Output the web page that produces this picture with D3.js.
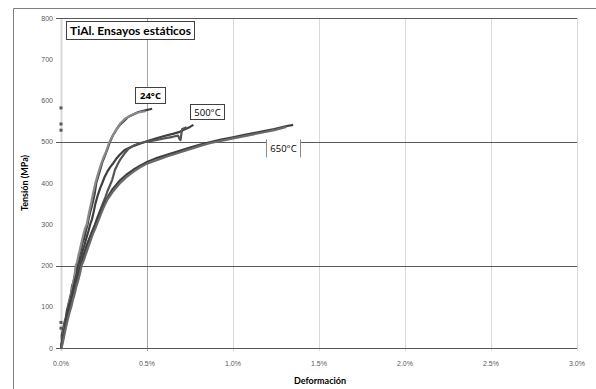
<!DOCTYPE html>
<meta charset="utf-8">
<style>
body { margin: 0; background: #fff; }
svg text { font-family: Lato, "Liberation Sans", sans-serif; }
.tick-label { font-family: "Liberation Sans", sans-serif; font-size: 7px; fill: #595959; }
.axis-title { font-size: 9px; font-weight: 700; fill: #000; }
svg text.temp { font-family: "Open Sans", sans-serif; font-size: 9.5px; }
</style>
<body>
<script src="https://cdn.jsdelivr.net/npm/d3@7"></script>
<script>
var W = 596, H = 389

// strain (%) and stress (MPa)
var s24aX = [0, 0.006, 0.004, 0.012, 0.02, 0.028, 0.034, 0.042, 0.05, 0.058, 0.064, 0.072, 0.08, 0.086, 0.095, 0.104, 0.11, 0.118, 0.126, 0.132, 0.14, 0.148, 0.155, 0.162, 0.17, 0.178, 0.186, 0.195, 0.205, 0.215, 0.225, 0.24, 0.255, 0.27, 0.285, 0.3, 0.32, 0.34, 0.365, 0.39, 0.42, 0.45, 0.49, 0.53]
var s24aY = [0, 14, 30, 46, 62, 74, 90, 104, 118, 132, 150, 160, 176, 190, 200, 214, 230, 240, 256, 262, 276, 290, 300, 316, 330, 342, 356, 372, 400, 414, 428, 450, 466, 482, 500, 514, 528, 540, 550, 560, 566, 572, 576, 580]

var s24bX = [0.002, 0.008, 0.015, 0.022, 0.03, 0.04, 0.046, 0.055, 0.063, 0.07, 0.078, 0.085, 0.092, 0.1, 0.108, 0.116, 0.124, 0.132, 0.14, 0.15, 0.158, 0.166, 0.175, 0.185, 0.2, 0.215, 0.23, 0.245, 0.262, 0.282, 0.302, 0.322, 0.344, 0.372, 0.41, 0.45, 0.49]
var s24bY = [5, 24, 40, 56, 72, 90, 108, 122, 140, 156, 170, 200, 206, 222, 236, 250, 264, 278, 290, 300, 318, 334, 350, 372, 400, 422, 442, 460, 476, 500, 516, 530, 544, 556, 565, 571, 574]

var s500aX = [0, 0.008, 0.016, 0.024, 0.03, 0.04, 0.048, 0.056, 0.066, 0.074, 0.082, 0.092, 0.1, 0.108, 0.118, 0.126, 0.134, 0.142, 0.15, 0.16, 0.17, 0.18, 0.19, 0.2, 0.215, 0.23, 0.24, 0.255, 0.27, 0.285, 0.3, 0.32, 0.34, 0.37, 0.41, 0.45, 0.49, 0.55, 0.6, 0.65, 0.69, 0.72, 0.75, 0.77]
var s500aY = [0, 20, 36, 56, 74, 90, 106, 118, 136, 150, 166, 180, 200, 208, 222, 236, 246, 258, 270, 284, 300, 312, 330, 350, 372, 390, 400, 416, 428, 438, 446, 458, 468, 480, 488, 494, 500, 508, 514, 519, 524, 530, 536, 541]

var s500bX = [0, 0.01, 0.018, 0.026, 0.036, 0.046, 0.054, 0.062, 0.072, 0.082, 0.09, 0.1, 0.11, 0.12, 0.13, 0.142, 0.152, 0.162, 0.174, 0.186, 0.198, 0.21, 0.226, 0.244, 0.258, 0.27, 0.284, 0.297, 0.314, 0.33, 0.343, 0.37, 0.39, 0.42, 0.46, 0.5, 0.55, 0.6, 0.65, 0.68, 0.69, 0.695, 0.7, 0.705, 0.73]
var s500bY = [0, 16, 34, 52, 72, 88, 104, 120, 136, 150, 168, 182, 200, 212, 226, 240, 252, 262, 274, 286, 300, 315, 332, 351, 366, 380, 394, 407, 432, 446, 456, 472, 482, 490, 497, 500, 504, 508, 512, 515, 506, 504, 520, 531, 535]

var s650aX = [0, 0.01, 0.02, 0.028, 0.036, 0.046, 0.056, 0.066, 0.076, 0.086, 0.096, 0.106, 0.115, 0.128, 0.14, 0.152, 0.166, 0.18, 0.2, 0.225, 0.25, 0.275, 0.3, 0.34, 0.38, 0.42, 0.46, 0.5, 0.56, 0.62, 0.69, 0.75, 0.81, 0.87, 0.93, 1.0, 1.06, 1.12, 1.18, 1.24, 1.3, 1.35]
var s650aY = [0, 24, 42, 60, 76, 96, 110, 126, 140, 158, 172, 188, 200, 218, 234, 250, 266, 282, 300, 326, 350, 368, 385, 405, 420, 432, 442, 451, 461, 469, 478, 486, 493, 499, 505, 511, 516, 521, 526, 531, 537, 541]

var s650bX = [0.003, 0.012, 0.022, 0.03, 0.04, 0.05, 0.06, 0.07, 0.08, 0.09, 0.1, 0.11, 0.12, 0.132, 0.145, 0.158, 0.17, 0.185, 0.2, 0.22, 0.245, 0.27, 0.3, 0.34, 0.38, 0.42, 0.46, 0.5, 0.56, 0.62, 0.69, 0.75, 0.81, 0.87, 0.93, 1.0, 1.06, 1.12, 1.18, 1.24, 1.31]
var s650bY = [0, 16, 36, 52, 70, 86, 100, 118, 132, 150, 164, 180, 200, 212, 228, 244, 258, 276, 290, 312, 338, 360, 378, 398, 414, 427, 438, 447, 456, 465, 474, 482, 490, 497, 502, 508, 513, 518, 523, 528, 536]

// loose points sitting on the vertical axis
var strayY = [582, 543, 528, 62, 48]

var seriesNames = ['24a', '24b', '500a', '500b', '650a', '650b']
var seriesX = [s24aX, s24bX, s500aX, s500bX, s650aX, s650bX]
var seriesY = [s24aY, s24bY, s500aY, s500bY, s650aY, s650bY]
var seriesColor = ['#3f3f3f', '#8a8a8a', '#3f3f3f', '#555555', '#3f3f3f', '#6a6a6a']

var xTicks = [0, 0.5, 1.0, 1.5, 2.0, 2.5, 3.0]
var yTicks = [0, 100, 200, 300, 400, 500, 600, 700, 800]
var yGrid = [200, 500, 800]

var tempLabels = ['24°C', '500°C', '650°C']

var x = d3.scaleLinear().domain([0, 3]).range([61, 577])
var y = d3.scaleLinear().domain([0, 800]).range([348, 18])

var svg = d3.select('body').append('svg')
    .attr('width', W)
    .attr('height', H)

// outer chart frame (left and top edges visible)
svg.append('path')
    .attr('d', 'M13.5,' + H + 'V8.5H' + W)
    .attr('fill', 'none')
    .attr('stroke', '#7f7f7f')

// vertical gridlines
svg.append('g').selectAll('line')
    .data(xTicks)
    .enter().append('line')
    .attr('x1', function (d) { return Math.round(x(d)) + 0.5 })
    .attr('x2', function (d) { return Math.round(x(d)) + 0.5 })
    .attr('y1', y(800))
    .attr('y2', y(0) + 3)
    .attr('stroke', function (d) { return d === 0.5 ? '#a6a6a6' : '#d9d9d9' })
    .attr('stroke-width', function (d) { return d === 0 ? 2 : 1 })

// horizontal gridlines
svg.append('g').selectAll('line')
    .data(yGrid)
    .enter().append('line')
    .attr('x1', x(0) - 5)
    .attr('x2', x(3))
    .attr('y1', function (d) { return Math.round(y(d)) + 0.5 })
    .attr('y2', function (d) { return Math.round(y(d)) + 0.5 })
    .attr('stroke', '#595959')

// x axis line
svg.append('line')
    .attr('x1', x(0) - 5).attr('x2', x(3))
    .attr('y1', Math.round(y(0)) + 0.5).attr('y2', Math.round(y(0)) + 0.5)
    .attr('stroke', '#595959')

svg.append('g').selectAll('text')
    .data(xTicks)
    .enter().append('text')
    .attr('class', 'tick-label')
    .attr('x', function (d) { return x(d) })
    .attr('y', y(0) + 18)
    .attr('text-anchor', 'middle')
    .text(function (d) { return d3.format('.1f')(d) + '%' })

svg.append('g').selectAll('text')
    .data(yTicks)
    .enter().append('text')
    .attr('class', 'tick-label')
    .attr('x', x(0) - 8)
    .attr('y', function (d) { return y(d) + 2.5 })
    .attr('text-anchor', 'end')
    .text(function (d) { return d })

svg.append('text')
    .attr('class', 'axis-title')
    .attr('x', 320)
    .attr('y', 384)
    .attr('text-anchor', 'middle')
    .text('Deformación')

svg.append('text')
    .attr('class', 'axis-title')
    .attr('transform', 'translate(28,183) rotate(-90)')
    .attr('text-anchor', 'middle')
    .text('Tensión (MPa)')

// curves
var line = d3.line()
    .x(function (d) { return x(d[0]) })
    .y(function (d) { return y(d[1]) })

seriesNames.forEach(function (name, i) {
    var pts = seriesX[i].map(function (v, j) { return [v, seriesY[i][j]] })
    svg.append('path')
        .datum(pts)
        .attr('class', 'curve s' + name)
        .attr('d', line)
        .attr('fill', 'none')
        .attr('stroke', seriesColor[i])
        .attr('stroke-width', 2.2)
        .attr('stroke-linejoin', 'round')
})

svg.append('g').selectAll('rect')
    .data(strayY)
    .enter().append('rect')
    .attr('x', x(0) - 1.5)
    .attr('y', function (d) { return y(d) - 1.5 })
    .attr('width', 3)
    .attr('height', 3)
    .attr('fill', '#595959')

// title box
var title = svg.append('g')
title.append('rect')
    .attr('x', 66.5).attr('y', 21.5)
    .attr('width', 128).attr('height', 18)
    .attr('fill', '#fff')
    .attr('stroke', '#404040')
title.append('text')
    .attr('x', 130.5).attr('y', 35)
    .attr('text-anchor', 'middle')
    .attr('font-size', 12)
    .attr('font-weight', 700)
    .text('TiAl. Ensayos estáticos')

// temperature labels
var boxes = [[135.5, 87.5, 30, 16], [190.5, 104.5, 34, 15], [266.5, 139.5, 34, 18]]
tempLabels.forEach(function (t, i) {
    var b = boxes[i]
    var g = svg.append('g')
    g.append('rect')
        .attr('x', b[0]).attr('y', b[1])
        .attr('width', b[2]).attr('height', b[3])
        .attr('fill', '#fff')
        .attr('stroke', i === 2 ? 'none' : '#404040')
    if (i === 2) {
        g.append('line').attr('x1', b[0]).attr('x2', b[0]).attr('y1', b[1]).attr('y2', b[1] + b[3]).attr('stroke', '#8c8c8c')
        g.append('line').attr('x1', b[0] + b[2]).attr('x2', b[0] + b[2]).attr('y1', b[1]).attr('y2', b[1] + b[3]).attr('stroke', '#8c8c8c')
    }
    g.append('text')
        .attr('class', 'temp')
        .attr('x', b[0] + b[2] / 2)
        .attr('y', b[1] + b[3] / 2 + 3.5)
        .attr('text-anchor', 'middle')
        .attr('font-weight', i === 0 ? 700 : 400)
        .text(t)
})
</script>
</body>
